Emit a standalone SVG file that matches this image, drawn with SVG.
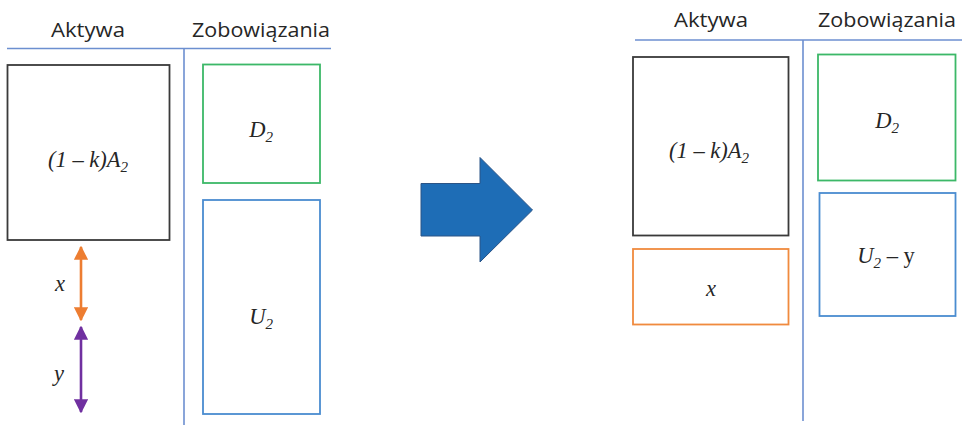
<svg xmlns="http://www.w3.org/2000/svg" width="964" height="426" viewBox="0 0 964 426">
  <style>
    .hdr { font-family: "Open Sans", "Liberation Sans", sans-serif; font-size: 20.5px; fill: #262626; text-anchor: middle; }
    .math { font-family: "Liberation Serif", "DejaVu Serif", serif; font-style: italic; font-size: 22.5px; fill: #262626; text-anchor: middle; }
    .sub { font-size: 15px; }
    .rule { stroke: #6C8FD0; stroke-width: 1.6; fill: none; }
    .box { fill: #ffffff; stroke-width: 1.8; }
    .asset { stroke: #3A3A3A; }
    .equity { stroke: #3CB868; }
    .debt { stroke: #4A8CD0; }
    .cash { stroke: #F08A3E; }
  </style>
  <defs>
    <marker id="headOrange" viewBox="0 0 10 10" refX="9" refY="5" markerWidth="5.5" markerHeight="5.5" markerUnits="strokeWidth" orient="auto-start-reverse">
      <path d="M0,0 L10,5 L0,10 Z" fill="#ED7D31"/>
    </marker>
    <marker id="headPurple" viewBox="0 0 10 10" refX="9" refY="5" markerWidth="5.5" markerHeight="5.5" markerUnits="strokeWidth" orient="auto-start-reverse">
      <path d="M0,0 L10,5 L0,10 Z" fill="#7030A0"/>
    </marker>
  </defs>

  <!-- Before: balance sheet -->
  <g id="before-frame">
    <text class="hdr" x="88" y="37" textLength="74" lengthAdjust="spacingAndGlyphs">Aktywa</text>
    <text class="hdr" x="261" y="37" textLength="138" lengthAdjust="spacingAndGlyphs">Zobowiązania</text>
    <line class="rule" x1="7" y1="48.5" x2="331" y2="48.5"/>
    <line class="rule" x1="184" y1="48.5" x2="184" y2="425"/>
  </g>
  <g id="before-assets">
    <rect class="box asset" x="7.5" y="65" width="162" height="175"/>
    <text class="math" x="88" y="167">(1 – k)A<tspan class="sub" dy="5">2</tspan></text>
  </g>
  <g id="before-equity">
    <rect class="box equity" x="203" y="64.5" width="117" height="118.5"/>
    <text class="math" x="261" y="137">D<tspan class="sub" dy="5">2</tspan></text>
  </g>
  <g id="before-debt">
    <rect class="box debt" x="203" y="200" width="117" height="214"/>
    <text class="math" x="261" y="324">U<tspan class="sub" dy="5">2</tspan></text>
  </g>
  <g id="label-x">
    <text class="math" x="60" y="291">x</text>
  </g>
  <g id="label-y">
    <text class="math" x="59" y="381">y</text>
  </g>

  <!-- Size markers and transition arrow -->
  <g id="connectors">
    <line x1="81" y1="247" x2="81" y2="320" stroke="#ED7D31" stroke-width="2.6" marker-start="url(#headOrange)" marker-end="url(#headOrange)"/>
    <line x1="81" y1="327" x2="81" y2="412" stroke="#7030A0" stroke-width="2.6" marker-start="url(#headPurple)" marker-end="url(#headPurple)"/>
    <path d="M421,183.5 H480 V157.5 L532.5,210 L480,262 V236 H421 Z" fill="#1E6DB6" stroke="#2B5486" stroke-width="1"/>
  </g>

  <!-- After: balance sheet -->
  <g id="after-frame">
    <text class="hdr" x="711" y="27" textLength="74" lengthAdjust="spacingAndGlyphs">Aktywa</text>
    <text class="hdr" x="887" y="27" textLength="138" lengthAdjust="spacingAndGlyphs">Zobowiązania</text>
    <line class="rule" x1="635" y1="40" x2="962" y2="40"/>
    <line class="rule" x1="803" y1="40" x2="803" y2="421"/>
  </g>
  <g id="after-assets">
    <rect class="box asset" x="633" y="57" width="155.5" height="178.5"/>
    <text class="math" x="709" y="158">(1 – k)A<tspan class="sub" dy="5">2</tspan></text>
  </g>
  <g id="after-cash">
    <rect class="box cash" x="633" y="249" width="155.5" height="75.5"/>
    <text class="math" x="711" y="296">x</text>
  </g>
  <g id="after-equity">
    <rect class="box equity" x="818" y="54.5" width="137.5" height="126"/>
    <text class="math" x="887" y="128">D<tspan class="sub" dy="5">2</tspan></text>
  </g>
  <g id="after-debt">
    <rect class="box debt" x="819.5" y="193" width="136" height="123"/>
    <text class="math" x="886" y="263">U<tspan class="sub" dy="5">2</tspan><tspan dy="-5" font-style="normal"> – y</tspan></text>
  </g>
</svg>
